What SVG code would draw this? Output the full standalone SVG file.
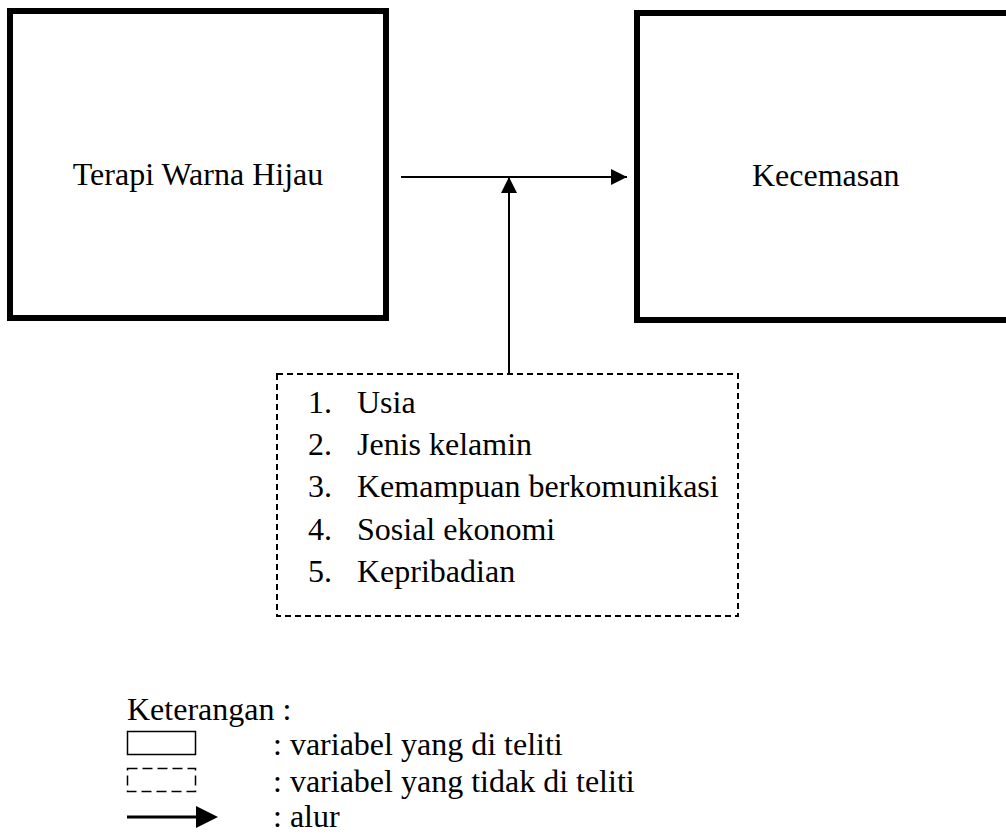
<svg xmlns="http://www.w3.org/2000/svg" width="1006" height="834" viewBox="0 0 1006 834" font-family="'Liberation Serif', 'Times New Roman', Times, serif" font-size="32">
<style>
text{font-family:'Liberation Serif','Times New Roman',Times,serif;font-size:32px;fill:#000}
.box{fill:#fff;stroke:#000;stroke-width:6}
.dash{fill:#fff;stroke:#000;stroke-width:2;stroke-dasharray:6 4}
.conn{stroke:#000;stroke-width:2;fill:none}
</style>
<defs>
<marker id="ah" markerUnits="userSpaceOnUse" markerWidth="16" markerHeight="16" refX="16" refY="8" orient="auto" viewBox="0 0 16 16">
<path d="M0,0 L16,8 L0,16 Z" fill="#000"/>
</marker>
</defs>
<rect width="1006" height="834" fill="#fff"/>
<g id="node-terapi">
<rect class="box" x="10" y="11" width="376" height="307"/>
<text x="198" y="185" text-anchor="middle">Terapi Warna Hijau</text>
</g>
<g id="node-kecemasan">
<rect class="box" x="637" y="13" width="380" height="307"/>
<text x="752" y="186">Kecemasan</text>
</g>
<g id="node-faktor">
<rect class="dash" x="277" y="374" width="461" height="242"/>
<text x="308" y="413">1.</text><text x="357" y="413">Usia</text>
<text x="308" y="455">2.</text><text x="357" y="455">Jenis kelamin</text>
<text x="308" y="497">3.</text><text x="357" y="497">Kemampuan berkomunikasi</text>
<text x="308" y="540">4.</text><text x="357" y="540">Sosial ekonomi</text>
<text x="308" y="582">5.</text><text x="357" y="582">Kepribadian</text>
</g>
<g id="connectors">
<line class="conn" x1="401" y1="177" x2="627" y2="177" marker-end="url(#ah)"/>
<line class="conn" x1="509" y1="374" x2="509" y2="177" marker-end="url(#ah)"/>
</g>
<g id="legend">
<text x="127" y="720">Keterangan :</text>
<rect x="127.5" y="731.5" width="68" height="23" fill="none" stroke="#000" stroke-width="1.5"/>
<rect x="127.5" y="768.5" width="68" height="23" fill="none" stroke="#000" stroke-width="1.5" stroke-dasharray="10 5"/>
<line x1="127" y1="817" x2="198" y2="817" stroke="#000" stroke-width="3"/>
<path d="M196,806 L218,817 L196,828 Z" fill="#000"/>
<text x="273" y="755">: variabel yang di teliti</text>
<text x="273" y="792">: variabel yang tidak di teliti</text>
<text x="273" y="827">: alur</text>
</g>
</svg>
